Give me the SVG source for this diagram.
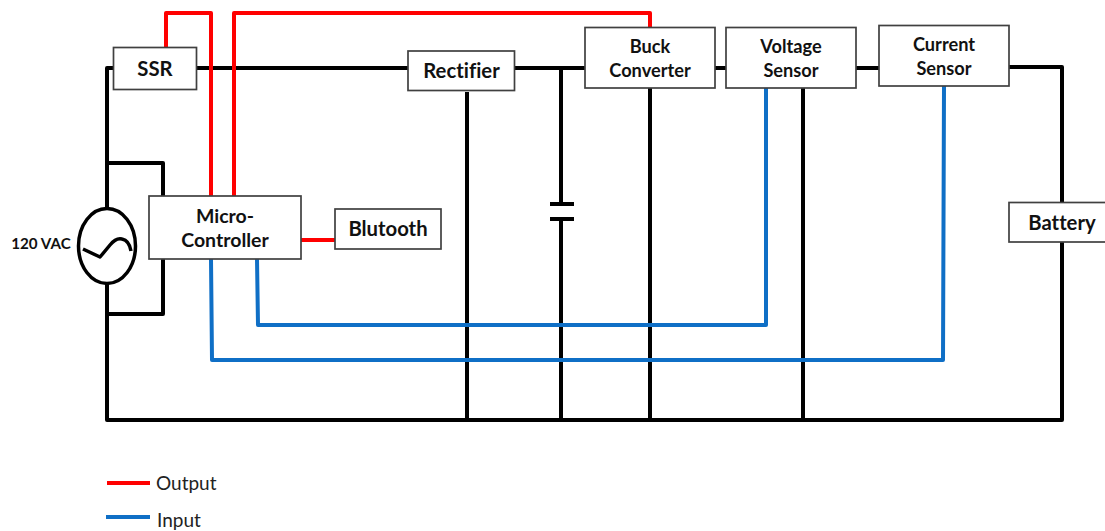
<svg xmlns="http://www.w3.org/2000/svg" width="1105" height="531" viewBox="0 0 1105 531">
<style>
.w{fill:none;stroke-width:4;stroke-linejoin:round}
.k{stroke:#000}.r{stroke:#f00}.b{stroke:#0f6fc6}
.box{fill:#fff;stroke:#404040;stroke-width:1.7}
text{font-family:Lato,"Liberation Sans",sans-serif;fill:#111;text-anchor:middle;font-weight:700;font-size:19.500px;font-variant-ligatures:none}
.sm{font-size:18.200px}
.lg{font-size:20.300px}
.leg{font-weight:400;font-size:19px;text-anchor:start;fill:#222}
</style>
<rect width="1105" height="531" fill="#fff"/>
<g id="connectors">
<path class="w k" d="M113 68H107V209M107 284V420H1062V242M107 163H163V196M163 259V314H107M196 68H408M514 68H585M715 68H726M856 68H879M1009 67H1062V202"/>
<path class="w k" d="M467 92V420M561 68V204M561 219V420M650 88V420M803 88V420"/>
<path class="w k" d="M550 204H574M550 219H574"/>
<path class="w r" d="M166 47V13H211V196M234 196V13H650V27M301 240H335"/>
<path class="w b" d="M211 259L212 360H943L944 86M257 259L258 325H766V88"/>
</g>
<g id="ssr"><rect class="box" x="113.500" y="47.500" width="83" height="42"/><text class="lg" x="155" y="76">SSR</text></g>
<g id="rectifier"><rect class="box" x="408" y="51" width="106.500" height="39.500"/><text class="lg" x="461.500" y="78">Rectifier</text></g>
<g id="buck-converter"><rect class="box" x="585" y="27.500" width="130" height="60.500"/><text class="sm" x="650" y="52.500">Buck</text><text class="sm" x="650" y="76.500">Converter</text></g>
<g id="voltage-sensor"><rect class="box" x="726" y="27.500" width="130" height="60.500"/><text class="sm" x="791" y="52.500">Voltage</text><text class="sm" x="791" y="76.500">Sensor</text></g>
<g id="current-sensor"><rect class="box" x="879" y="25.500" width="130" height="60.500"/><text class="sm" x="944" y="50.500">Current</text><text class="sm" x="944" y="74.500">Sensor</text></g>
<g id="battery"><rect class="box" x="1009" y="202.500" width="100" height="39.500"/><text class="lg" x="1062" y="229.500">Battery</text></g>
<g id="micro-controller"><rect class="box" x="149" y="196" width="152" height="63"/><text x="225" y="223">Micro-</text><text x="225" y="247">Controller</text></g>
<g id="blutooth"><rect class="box" x="335" y="209" width="106" height="40"/><text class="lg" x="388" y="236">Blutooth</text></g>
<g id="ac-source"><ellipse cx="107" cy="246" rx="28.500" ry="37.500" fill="#fff" stroke="#000" stroke-width="3.500"/><path fill="none" stroke="#000" stroke-width="3.500" stroke-linejoin="round" d="M83 249L100 257L110 245C114 240 118 238 122 239C127 240 130 245 131 251"/><text x="41" y="249" style="font-size:15.200px">120 VAC</text></g>
<g id="legend"><path class="w r" d="M107 483H150"/><path class="w b" d="M106 517H150"/><text class="leg" x="156" y="490">Output</text><text class="leg" x="157" y="527">Input</text></g>
</svg>
